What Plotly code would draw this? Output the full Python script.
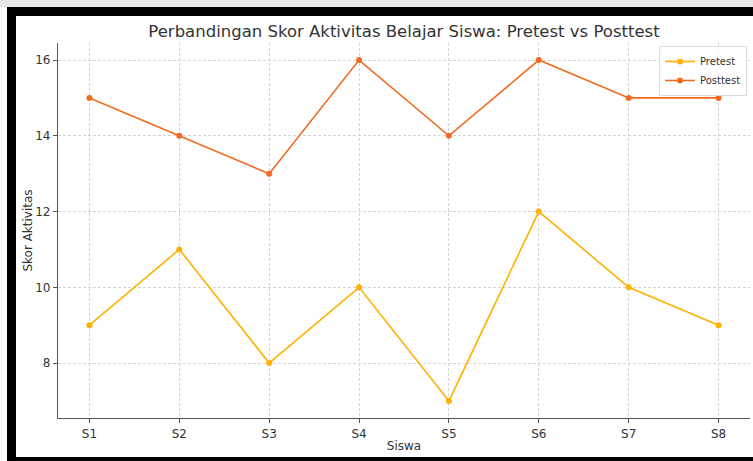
import plotly.graph_objects as go

students = ["S1", "S2", "S3", "S4", "S5", "S6", "S7", "S8"]
pretest = [9, 11, 8, 10, 7, 12, 10, 9]
posttest = [15, 14, 13, 16, 14, 16, 15, 15]
y_ticks = [8, 10, 12, 14, 16]

W, H = 753, 461
L, R, T, B = 58, 3, 43, 43
pw, ph = W - L - R, H - T - B

def px(x):
    return (x - L) / pw

def py(y):
    return (H - B - y) / ph

fig = go.Figure()
fig.add_trace(go.Scatter(x=list(range(len(students))), y=pretest, name="Pretest",
                         mode="lines+markers", line=dict(color="#FFB000", width=1.6),
                         marker=dict(size=6, color="#FFB000")))
fig.add_trace(go.Scatter(x=list(range(len(students))), y=posttest, name="Posttest",
                         mode="lines+markers", line=dict(color="#F26B21", width=1.6),
                         marker=dict(size=6, color="#F26B21")))

shapes = [
    dict(type="rect", xref="paper", yref="paper", x0=px(0), x1=px(W), y0=py(7), y1=py(0),
         fillcolor="#e6e6e6", line=dict(width=0), layer="below"),
    dict(type="rect", xref="paper", yref="paper", x0=px(7), x1=px(W), y0=py(16), y1=py(7),
         fillcolor="black", line=dict(width=0)),
    dict(type="rect", xref="paper", yref="paper", x0=px(7), x1=px(16), y0=py(H), y1=py(7),
         fillcolor="black", line=dict(width=0)),
    dict(type="rect", xref="paper", yref="paper", x0=px(7), x1=px(W), y0=py(H), y1=py(457),
         fillcolor="black", line=dict(width=0)),
]

grid_dash = "3px,2px"

fig.update_layout(
    width=W, height=H,
    margin=dict(l=L, r=R, t=T, b=B, autoexpand=False),
    paper_bgcolor="white", plot_bgcolor="white",
    font=dict(family="DejaVu Sans", size=12, color="#333333"),
    title=dict(text="Perbandingan Skor Aktivitas Belajar Siswa: Pretest vs Posttest",
               x=px(404), xanchor="center", y=1 - 31 / H, yanchor="middle",
               xref="paper", yref="container",
               font=dict(size=16.5, color="#333333")),
    xaxis=dict(tickmode="array", tickvals=list(range(len(students))), ticktext=students,
               range=[-0.35, 7.35], showline=True, linecolor="#555555", linewidth=1.2,
               ticks="outside", ticklen=4, tickcolor="#555555",
               showgrid=True, gridcolor="#d4d4d4", griddash=grid_dash, gridwidth=0.7,
               zeroline=False, title=dict(text="Siswa", font=dict(size=12), standoff=2)),
    yaxis=dict(tickvals=y_ticks, range=[6.55, 16.45], showline=True, linecolor="#555555",
               linewidth=1.2, ticks="outside", ticklen=4, tickcolor="#555555",
               showgrid=True, gridcolor="#d4d4d4", griddash=grid_dash, gridwidth=0.7,
               zeroline=False, title=dict(text="Skor Aktivitas", font=dict(size=12), standoff=0)),
    legend=dict(x=px(747), y=py(46), xanchor="right", yanchor="top",
                bordercolor="#dddddd", borderwidth=1, bgcolor="rgba(255,255,255,0.8)",
                font=dict(size=10), tracegroupgap=0, itemwidth=30),
    shapes=shapes,
)

fig.write_html("out.html", config={"displayModeBar": False},
               post_script="document.body.style.margin='0';document.body.style.padding='0';")
